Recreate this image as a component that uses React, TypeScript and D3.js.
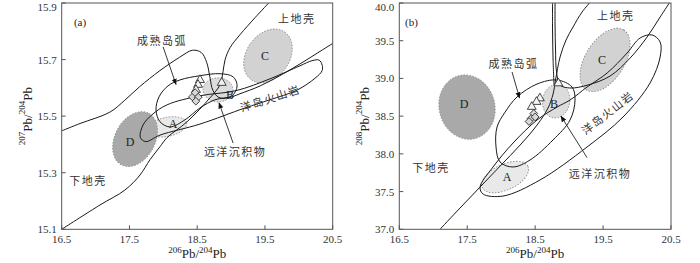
import React from 'react';
import * as d3 from 'd3';

type P = [number, number];

// ---------- shared ticks ----------
const xTicks = [16.5, 17.5, 18.5, 19.5, 20.5];
const aYTicks = [15.1, 15.3, 15.5, 15.7, 15.9];
const bYTicks = [37.0, 37.5, 38.0, 38.5, 39.0, 39.5, 40.0];

// ---------- panel (a): 206Pb/204Pb vs 207Pb/204Pb ----------
const aLineP: P[] = [
  [16.5, 15.1], [17.065, 15.186], [17.434, 15.239], [17.656, 15.292], [17.803, 15.346],
  [17.951, 15.392], [18.055, 15.424], [18.35, 15.48], [18.69, 15.565], [18.837, 15.611],
  [18.881, 15.657], [18.911, 15.699], [18.985, 15.742], [19.132, 15.788], [19.353, 15.848], [19.575, 15.905],
];
const aLineC1: P[] = [
  [16.5, 15.448], [16.77, 15.474], [17.21, 15.514], [17.43, 15.556], [17.65, 15.604],
  [17.95, 15.661], [18.24, 15.708], [18.43, 15.733], [18.56, 15.725], [18.64, 15.69],
  [18.69, 15.635], [18.73, 15.592], [18.82, 15.566], [18.96, 15.565], [19.13, 15.579],
  [19.43, 15.607], [19.72, 15.643], [20.02, 15.685], [20.28, 15.724], [20.52, 15.76],
];
const aArc: P[] = [
  [19.089, 15.607], [19.03, 15.639], [18.837, 15.65], [18.541, 15.643], [18.246, 15.628],
  [18.069, 15.607], [17.936, 15.568], [17.892, 15.522], [17.951, 15.48], [18.098, 15.462],
  [18.32, 15.487], [18.541, 15.529], [18.763, 15.558], [19.014, 15.572],
];
const aOIB: P[] = [
  [17.66, 15.425], [17.701, 15.469], [17.833, 15.505], [18.055, 15.54], [18.541, 15.572],
  [19.072, 15.59], [19.575, 15.632], [20.017, 15.678], [20.194, 15.696], [20.3, 15.698],
  [20.345, 15.68], [20.342, 15.66], [20.239, 15.634], [19.973, 15.592], [19.574, 15.558],
  [19.205, 15.529], [18.541, 15.472], [17.951, 15.433], [17.74, 15.41],
];
const aTriangles: P[] = [[18.541, 15.628], [18.512, 15.611], [18.482, 15.593], [18.862, 15.618]];
const aDiamonds: P[] = [[18.43, 15.568], [18.47, 15.583], [18.515, 15.567], [18.48, 15.553]];

// ---------- panel (b): 206Pb/204Pb vs 208Pb/204Pb ----------
const bLineS: P[] = [
  [17.099, 37.0], [17.394, 37.282], [17.689, 37.56], [17.985, 37.839], [18.279, 38.117],
  [18.528, 38.382], [18.69, 38.608], [18.764, 38.794], [18.8, 38.979], [18.867, 39.284],
  [18.955, 39.51], [19.058, 39.682], [19.191, 39.881], [19.32, 40.02],
];
const bLineR: P[] = [
  [20.49, 40.02], [20.34, 39.814], [20.148, 39.549], [19.898, 39.27], [19.603, 39.032],
  [19.279, 38.913], [19.014, 38.873], [18.867, 38.913], [18.815, 39.085], [18.8, 39.377],
  [18.793, 39.709], [18.793, 40.02],
];
const bLineV: P[] = [[18.756, 40.02], [18.756, 39.642], [18.764, 39.244], [18.778, 38.913]];
const bArc: P[] = [
  [17.939, 38.356], [18.057, 38.553], [18.233, 38.754], [18.528, 38.926], [18.822, 38.979],
  [19.043, 38.886], [19.087, 38.714], [19.014, 38.449], [18.763, 38.184], [18.424, 37.918],
  [18.174, 37.826], [17.983, 37.892], [17.924, 38.091],
];
const bOIB: P[] = [
  [17.689, 37.561], [17.733, 37.468], [18.027, 37.441], [18.572, 37.654], [19.264, 38.091],
  [19.794, 38.489], [20.192, 38.94], [20.34, 39.284], [20.34, 39.483], [20.222, 39.576],
  [20.045, 39.536], [19.854, 39.337], [19.56, 39.072], [19.264, 38.886], [19.014, 38.714],
  [18.823, 38.621], [18.528, 38.449], [18.175, 38.144], [17.88, 37.826],
];
const bTriangles: P[] = [[18.842, 38.936], [18.57, 38.737], [18.52, 38.69], [18.45, 38.624]];
const bDiamonds: P[] = [[18.48, 38.535], [18.44, 38.469], [18.41, 38.429], [18.5, 38.489]];

// ---------- ellipses (centre x, centre y, half-width x, half-height y, rotation) ----------
type Ell = { id: string; cx: number; cy: number; rx: number; ry: number; rot: number; fill: string };
const aEllipses: Ell[] = [
  { id: 'A', cx: 18.054, cy: 15.462, rx: 0.295, ry: 0.0336, rot: -12, fill: '#e9e9e9' },
  { id: 'B', cx: 18.807, cy: 15.593, rx: 0.221, ry: 0.0425, rot: 0, fill: '#dcdcdc' },
  { id: 'C', cx: 19.545, cy: 15.713, rx: 0.43, ry: 0.076, rot: -55, fill: '#d2d2d2' },
  { id: 'D', cx: 17.583, cy: 15.419, rx: 0.43, ry: 0.071, rot: -62, fill: '#a9a9a9' },
];
const bEllipses: Ell[] = [
  { id: 'A', cx: 18.059, cy: 37.693, rx: 0.37, ry: 0.17, rot: -25, fill: '#e9e9e9' },
  { id: 'B', cx: 18.81, cy: 38.7, rx: 0.2, ry: 0.225, rot: 10, fill: '#dcdcdc' },
  { id: 'C', cx: 19.529, cy: 39.245, rx: 0.52, ry: 0.26, rot: -58, fill: '#d2d2d2' },
  { id: 'D', cx: 17.497, cy: 38.62, rx: 0.41, ry: 0.43, rot: -15, fill: '#a9a9a9' },
];

type Lbl = { text: string; x: number; y: number; rot?: number };
const aLabels: Lbl[] = [
  { text: '成熟岛弧', x: 17.98, y: 15.769 },
  { text: '上地壳', x: 19.97, y: 15.848 },
  { text: '下地壳', x: 16.89, y: 15.275 },
  { text: '洋岛火山岩', x: 19.575, y: 15.566, rot: -18 },
  { text: '远洋沉积物', x: 19.06, y: 15.377 },
];
const bLabels: Lbl[] = [
  { text: '成熟岛弧', x: 18.18, y: 39.205 },
  { text: '上地壳', x: 19.686, y: 39.84 },
  { text: '下地壳', x: 16.967, y: 37.826 },
  { text: '洋岛火山岩', x: 19.56, y: 38.554, rot: -38 },
  { text: '远洋沉积物', x: 19.456, y: 37.746 },
];
const aEllLabels: Lbl[] = [
  { text: 'A', x: 18.143, y: 15.473 }, { text: 'B', x: 18.985, y: 15.575 },
  { text: 'C', x: 19.5, y: 15.713 }, { text: 'D', x: 17.508, y: 15.409 },
];
const bEllLabels: Lbl[] = [
  { text: 'A', x: 18.086, y: 37.693 }, { text: 'B', x: 18.778, y: 38.661 },
  { text: 'C', x: 19.485, y: 39.245 }, { text: 'D', x: 17.453, y: 38.661 },
];
type Arrow = { from: P; to: P };
const aArrows: Arrow[] = [
  { from: [17.997, 15.745], to: [18.187, 15.612] },
  { from: [19.03, 15.405], to: [18.822, 15.547] },
];
const bArrows: Arrow[] = [
  { from: [18.16, 39.085], to: [18.27, 38.741] },
  { from: [19.264, 37.95], to: [18.88, 38.5] },
];

type PanelCfg = {
  key: string; tag: string; left: number; right: number; top: number; bottom: number;
  yDomain: [number, number]; yTicks: number[]; yIso: string;
  lines: P[][]; loops: P[][]; ellipses: Ell[]; labels: Lbl[]; ellLabels: Lbl[]; arrows: Arrow[];
  triangles: P[]; diamonds: P[]; yLabelX: number; tagPos: P;
};

const panels: PanelCfg[] = [
  {
    key: 'a', tag: '(a)', left: 61.7, right: 332.7, top: 3, bottom: 229.3,
    yDomain: [15.1, 15.9], yTicks: aYTicks, yIso: '207',
    lines: [aLineP, aLineC1], loops: [aArc, aOIB], ellipses: aEllipses, labels: aLabels,
    ellLabels: aEllLabels, arrows: aArrows, triangles: aTriangles, diamonds: aDiamonds,
    yLabelX: 27, tagPos: [16.77, 15.834],
  },
  {
    key: 'b', tag: '(b)', left: 399.3, right: 671, top: 3, bottom: 229.3,
    yDomain: [37, 40], yTicks: bYTicks, yIso: '208',
    lines: [bLineS, bLineR, bLineV], loops: [bArc, bOIB], ellipses: bEllipses, labels: bLabels,
    ellLabels: bEllLabels, arrows: bArrows, triangles: bTriangles, diamonds: bDiamonds,
    yLabelX: 364, tagPos: [16.678, 39.748],
  },
];

const serif = '"Liberation Serif", "DejaVu Serif", serif';
const cjk = '"Noto Sans CJK SC", sans-serif';

function Panel({ cfg }: { cfg: PanelCfg }) {
  const x = d3.scaleLinear().domain([16.5, 20.5]).range([cfg.left, cfg.right]);
  const y = d3.scaleLinear().domain(cfg.yDomain).range([cfg.bottom, cfg.top]);
  const open = d3.line<P>().x(d => x(d[0])).y(d => y(d[1])).curve(d3.curveCatmullRom.alpha(0.5));
  const closed = d3.line<P>().x(d => x(d[0])).y(d => y(d[1])).curve(d3.curveCatmullRomClosed.alpha(0.5));
  const tri = d3.symbol().type(d3.symbolTriangle).size(34)();
  const sq = d3.symbol().type(d3.symbolSquare).size(30)();
  const clipId = `clip-${cfg.key}`;
  const markId = `arrow-${cfg.key}`;
  const w = cfg.right - cfg.left;
  const h = cfg.bottom - cfg.top;
  return (
    <g>
      <defs>
        <clipPath id={clipId}>
          <rect x={cfg.left} y={cfg.top} width={w} height={h} />
        </clipPath>
        <marker id={markId} viewBox="0 0 10 10" refX="9" refY="5" markerWidth="7" markerHeight="7" orient="auto">
          <path d="M0,1 L10,5 L0,9 Z" fill="#111" />
        </marker>
      </defs>
      <g clipPath={`url(#${clipId})`}>
        {cfg.ellipses.map(e => {
          const cx = x(e.cx), cy = y(e.cy);
          const rx = Math.abs(x(e.cx + e.rx) - cx), ry = Math.abs(y(e.cy + e.ry) - cy);
          return (
            <ellipse key={e.id} cx={cx} cy={cy} rx={rx} ry={ry} transform={`rotate(${e.rot} ${cx} ${cy})`}
              fill={e.fill} stroke="#8a8a8a" strokeWidth={0.9} strokeDasharray="1.5,1.5" />
          );
        })}
        {cfg.lines.map((l, i) => (
          <path key={'l' + i} d={open(l) || ''} fill="none" stroke="#1a1a1a" strokeWidth={1} />
        ))}
        {cfg.loops.map((l, i) => (
          <path key={'o' + i} d={closed(l) || ''} fill="none" stroke="#1a1a1a" strokeWidth={1} />
        ))}
      </g>
      {cfg.ellLabels.map(l => (
        <text key={l.text} x={x(l.x)} y={y(l.y)} fontFamily={serif} fontSize={12} fill="#222"
          textAnchor="middle" dominantBaseline="central">{l.text}</text>
      ))}
      {cfg.triangles.map((p, i) => (
        <path key={'t' + i} d={tri || ''} transform={`translate(${x(p[0])},${y(p[1])})`}
          fill="#f4f4f4" stroke="#333" strokeWidth={0.9} />
      ))}
      {cfg.diamonds.map((p, i) => (
        <path key={'d' + i} d={sq || ''} transform={`translate(${x(p[0])},${y(p[1])}) rotate(45)`}
          fill="#d8d8d8" stroke="#333" strokeWidth={0.9} />
      ))}
      {cfg.arrows.map((a, i) => (
        <line key={'a' + i} x1={x(a.from[0])} y1={y(a.from[1])} x2={x(a.to[0])} y2={y(a.to[1])}
          stroke="#222" strokeWidth={0.9} markerEnd={`url(#${markId})`} />
      ))}
      {cfg.labels.map(l => {
        const lx = x(l.x), ly = y(l.y);
        return (
          <text key={l.text} x={lx} y={ly} fontFamily={cjk} fontSize={11} fill="#333" letterSpacing={1.5}
            textAnchor="middle" dominantBaseline="central"
            transform={l.rot ? `rotate(${l.rot} ${lx} ${ly})` : undefined}>{l.text}</text>
        );
      })}
      <text x={x(cfg.tagPos[0])} y={y(cfg.tagPos[1])} fontFamily={serif} fontSize={11} fill="#222"
        textAnchor="middle" dominantBaseline="central">{cfg.tag}</text>
      {/* frame */}
      <rect x={cfg.left} y={cfg.top} width={w} height={h} fill="none" stroke="#555" strokeWidth={1} />
      {xTicks.map(t => (
        <g key={'xt' + t}>
          <line x1={x(t)} x2={x(t)} y1={cfg.bottom} y2={cfg.bottom - 4} stroke="#555" />
          <text x={x(t)} y={cfg.bottom + 14} fontFamily={serif} fontSize={11} fill="#333" textAnchor="middle">
            {d3.format('.1f')(t)}
          </text>
        </g>
      ))}
      {cfg.yTicks.map(t => (
        <g key={'yt' + t}>
          <line x1={cfg.left} x2={cfg.left + 4} y1={y(t)} y2={y(t)} stroke="#555" />
          <text x={cfg.left - 5} y={Math.max(y(t), 7)} fontFamily={serif} fontSize={11} fill="#333" textAnchor="end"
            dominantBaseline="central">{d3.format('.1f')(t)}</text>
        </g>
      ))}
      <text x={(cfg.left + cfg.right) / 2} y={258} fontFamily={serif} fontSize={13} fill="#222" textAnchor="middle">
        <tspan fontSize={9} dy={-5}>206</tspan>
        <tspan dy={5}>Pb/</tspan>
        <tspan fontSize={9} dy={-5}>204</tspan>
        <tspan dy={5}>Pb</tspan>
      </text>
      <text transform={`translate(${cfg.yLabelX},${(cfg.top + cfg.bottom) / 2}) rotate(-90)`}
        fontFamily={serif} fontSize={13} fill="#222" textAnchor="middle" dominantBaseline="central">
        <tspan fontSize={9} dy={-5}>{cfg.yIso}</tspan>
        <tspan dy={5}>Pb/</tspan>
        <tspan fontSize={9} dy={-5}>204</tspan>
        <tspan dy={5}>Pb</tspan>
      </text>
    </g>
  );
}

export default function App() {
  return (
    <svg width={700} height={263} viewBox="0 0 700 263"
      style={{ position: 'absolute', left: 0, top: 0, background: '#fff' }}>
      <rect width={700} height={263} fill="#fff" />
      {panels.map(p => <Panel key={p.key} cfg={p} />)}
    </svg>
  );
}
